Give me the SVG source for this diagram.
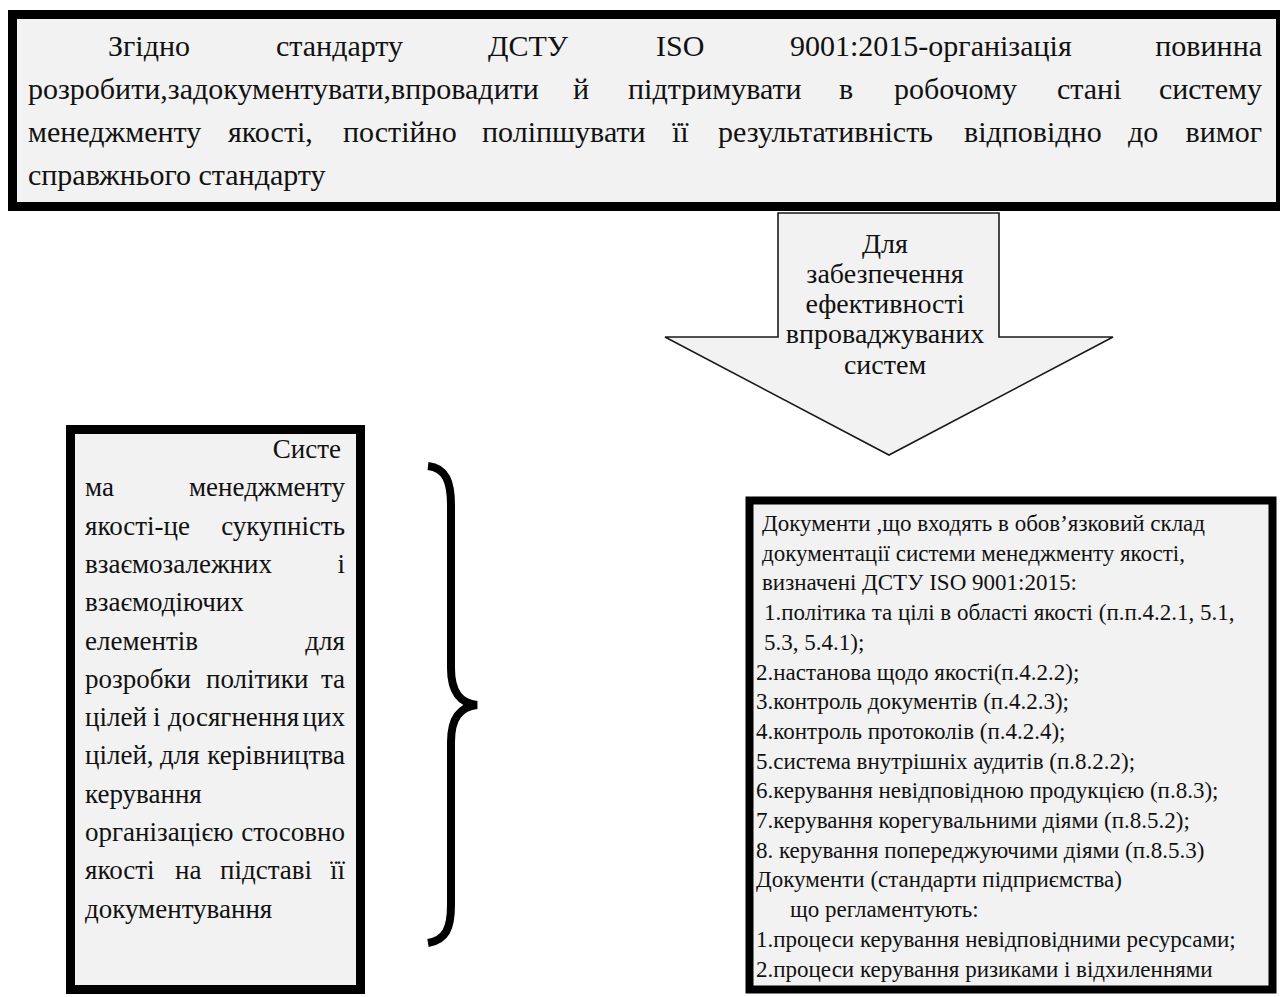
<svg xmlns="http://www.w3.org/2000/svg" width="1280" height="997" viewBox="0 0 1280 997">
  <style>
    .box { fill: #f2f2f2; stroke: #000; stroke-width: 9; }
    .arrow { fill: #f2f2f2; stroke: #1a1a1a; stroke-width: 1.6; stroke-linejoin: miter; }
    .brace { fill: none; stroke: #000; stroke-width: 8; stroke-linecap: butt; }
    text { font-family: "Liberation Serif", "Times New Roman", serif; fill: #111; }
    .t30 { font-size: 30px; }
    .t27 { font-size: 27px; }
    .t23 { font-size: 23px; }
    .mid { font-size: 28px; text-anchor: middle; }
    .end { text-anchor: end; }
  </style>

  <!-- Requirement statement -->
  <g id="node-requirement">
    <rect class="box" x="12.5" y="14.5" width="1268" height="192"/>
    <text class="t30" x="108" y="56">Згідно</text>
    <text class="t30" x="276" y="56">стандарту</text>
    <text class="t30" x="488" y="56">ДСТУ</text>
    <text class="t30" x="656" y="56">ISO</text>
    <text class="t30" x="790" y="56">9001:2015-організація</text>
    <text class="t30 end" x="1262" y="56">повинна</text>

    <text class="t30" x="28" y="99">розробити,задокументувати,впровадити</text>
    <text class="t30" x="573" y="99">й</text>
    <text class="t30" x="628" y="99">підтримувати</text>
    <text class="t30" x="839" y="99">в</text>
    <text class="t30" x="894" y="99">робочому</text>
    <text class="t30" x="1057" y="99">стані</text>
    <text class="t30 end" x="1262" y="99">систему</text>

    <text class="t30" x="28" y="142">менеджменту</text>
    <text class="t30" x="228" y="142">якості,</text>
    <text class="t30" x="343" y="142">постійно</text>
    <text class="t30" x="482" y="142">поліпшувати</text>
    <text class="t30" x="672" y="142">її</text>
    <text class="t30" x="718" y="142">результативність</text>
    <text class="t30" x="964" y="142">відповідно</text>
    <text class="t30" x="1128" y="142">до</text>
    <text class="t30 end" x="1262" y="142">вимог</text>

    <text class="t30" x="28" y="185">справжнього стандарту</text>
  </g>

  <!-- Block arrow pointing down to the document list -->
  <g id="node-arrow">
    <polygon class="arrow" points="778,213 999,213 999,337 1113,337 889,455 665,337 778,337"/>
    <text class="mid" x="885" y="253">Для</text>
    <text class="mid" x="885" y="283">забезпечення</text>
    <text class="mid" x="885" y="313">ефективності</text>
    <text class="mid" x="885" y="343">впроваджуваних</text>
    <text class="mid" x="885" y="374">систем</text>
  </g>

  <!-- Definition of the quality management system -->
  <g id="node-definition">
    <rect class="box" x="70.5" y="429.5" width="290" height="560"/>
    <text class="t27 end" x="341" y="458">Систе</text>

    <text class="t27" x="85" y="496.3">ма</text>
    <text class="t27 end" x="345" y="496.3">менеджменту</text>

    <text class="t27" x="85" y="534.6">якості-це</text>
    <text class="t27 end" x="345" y="534.6">сукупність</text>

    <text class="t27" x="85" y="572.9">взаємозалежних</text>
    <text class="t27 end" x="345" y="572.9">і</text>

    <text class="t27" x="85" y="611.2">взаємодіючих</text>

    <text class="t27" x="85" y="649.5">елементів</text>
    <text class="t27 end" x="345" y="649.5">для</text>

    <text class="t27" x="85" y="687.8">розробки</text>
    <text class="t27" x="206" y="687.8">політики</text>
    <text class="t27 end" x="345" y="687.8">та</text>

    <text class="t27" x="85" y="726.1">цілей</text>
    <text class="t27" x="153" y="726.1">і</text>
    <text class="t27" x="168" y="726.1">досягнення</text>
    <text class="t27 end" x="345" y="726.1">цих</text>

    <text class="t27" x="85" y="764.4">цілей,</text>
    <text class="t27" x="160" y="764.4">для</text>
    <text class="t27 end" x="345" y="764.4">керівництва</text>

    <text class="t27" x="85" y="802.7">керування</text>

    <text class="t27" x="85" y="841">організацією</text>
    <text class="t27 end" x="345" y="841">стосовно</text>

    <text class="t27" x="85" y="879.3">якості</text>
    <text class="t27" x="175" y="879.3">на</text>
    <text class="t27" x="220" y="879.3">підставі</text>
    <text class="t27 end" x="345" y="879.3">її</text>

    <text class="t27" x="85" y="917.6">документування</text>
  </g>

  <!-- Connector: curly brace grouping the definition -->
  <g id="connectors">
    <path class="brace" d="M428,466 C446,468 451,482 451,505 L451,668 C451,692 460,703 477,705 C460,707 451,718 451,742 L451,905 C451,928 446,940 428,943"/>
  </g>

  <!-- Mandatory documents of the QMS -->
  <g id="node-documents">
    <rect class="box" x="749.5" y="500.5" width="523" height="489" style="stroke-width:8"/>
    <text class="t23" x="762" y="531">Документи ,що входять в обов’язковий склад</text>
    <text class="t23" x="762" y="560.7">документації системи менеджменту якості,</text>
    <text class="t23" x="762" y="590.4">визначені ДСТУ ISO 9001:2015:</text>
    <text class="t23" x="764" y="620.1">1.політика та цілі в області якості (п.п.4.2.1, 5.1,</text>
    <text class="t23" x="764" y="649.8">5.3, 5.4.1);</text>
    <text class="t23" x="756" y="679.5">2.настанова щодо якості(п.4.2.2);</text>
    <text class="t23" x="756" y="709.2">3.контроль документів (п.4.2.3);</text>
    <text class="t23" x="756" y="738.9">4.контроль протоколів (п.4.2.4);</text>
    <text class="t23" x="756" y="768.6">5.система внутрішніх аудитів (п.8.2.2);</text>
    <text class="t23" x="756" y="798.3">6.керування невідповідною продукцією (п.8.3);</text>
    <text class="t23" x="756" y="828">7.керування корегувальними діями (п.8.5.2);</text>
    <text class="t23" x="756" y="857.7">8. керування попереджуючими діями (п.8.5.3)</text>
    <text class="t23" x="756" y="887.4">Документи (стандарти підприємства)</text>
    <text class="t23" x="790" y="917.1">що регламентують:</text>
    <text class="t23" x="756" y="946.8">1.процеси керування невідповідними ресурсами;</text>
    <text class="t23" x="756" y="976.5">2.процеси керування ризиками і відхиленнями</text>
  </g>
</svg>
